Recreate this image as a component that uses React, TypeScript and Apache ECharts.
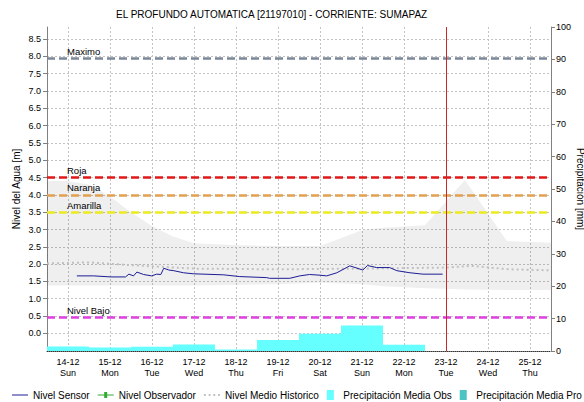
import React, { useEffect, useRef } from "react";
import * as echarts from "echarts";

const TITLE = "EL PROFUNDO AUTOMATICA [21197010] - CORRIENTE: SUMAPAZ";
const FONT = "'Liberation Sans', Arial, sans-serif";

// x axis: days counted from 14-12 00:00
const dayTicks = [0, 1, 2, 3, 4, 5, 6, 7, 8, 9, 10, 11];
const dayDates = ["14-12", "15-12", "16-12", "17-12", "18-12", "19-12", "20-12", "21-12", "22-12", "23-12", "24-12", "25-12"];
const dayNames = ["Sun", "Mon", "Tue", "Wed", "Thu", "Fri", "Sat", "Sun", "Mon", "Tue", "Wed", "Thu"];
const levelTicks = [0, 0.5, 1, 1.5, 2, 2.5, 3, 3.5, 4, 4.5, 5, 5.5, 6, 6.5, 7, 7.5, 8, 8.5];

// Nivel Sensor
const sensorX = [0.21, 0.61, 1.02, 1.37, 1.45, 1.56, 1.64, 1.8, 1.99, 2.11, 2.21, 2.28, 2.4, 2.52, 2.75, 2.99, 3.71, 4.09, 4.73, 4.8, 5.28, 5.52, 5.75, 6.0, 6.16, 6.4, 6.71, 7.02, 7.13, 7.35, 7.66, 7.83, 8.14, 8.45, 8.92];
const sensorLevel = [1.66, 1.66, 1.63, 1.63, 1.71, 1.66, 1.77, 1.7, 1.66, 1.71, 1.7, 1.88, 1.83, 1.81, 1.75, 1.72, 1.69, 1.64, 1.61, 1.59, 1.59, 1.66, 1.7, 1.68, 1.66, 1.75, 1.95, 1.83, 1.96, 1.9, 1.9, 1.81, 1.75, 1.71, 1.71];

// Nivel Medio Historico
const meanX = [-0.5, 0.5, 1.5, 3.0, 5.0, 7.0, 9.0, 9.6, 10.5, 11.5];
const meanLevel = [2.02, 2.05, 1.97, 1.87, 1.85, 1.87, 1.9, 1.95, 1.85, 1.82];

// historical envelope (gray band)
const bandX = [-0.5, 0.0, 0.5, 1.0, 1.5, 2.0, 2.5, 3.0, 4.0, 5.0, 6.0, 7.0, 7.5, 8.5, 9.45, 10.45, 11.5];
const bandHigh = [4.4, 4.4, 4.3, 3.95, 3.5, 3.1, 2.8, 2.6, 2.55, 2.52, 2.52, 2.98, 3.05, 3.12, 4.43, 2.67, 2.62];
const bandLow = [1.38, 1.38, 1.38, 1.38, 1.38, 1.38, 1.38, 1.38, 1.4, 1.42, 1.46, 1.42, 1.36, 1.3, 1.27, 1.25, 1.25];

// Precipitación Media Obs (mm), one bar per day
const precipDays = [0, 1, 2, 3, 4, 5, 6, 7, 8];
const precipObs = [1.4, 1.1, 1.3, 2.0, 0.5, 3.4, 5.3, 7.9, 1.9];

// thresholds
const thresholdNames = ["Maximo", "Roja", "Naranja", "Amarilla", "Nivel Bajo"];
const thresholdValues = [7.95, 4.5, 4.0, 3.5, 0.47];
const thresholdColors = ["#7b8899", "#e01818", "#e3a050", "#ecec1c", "#e040e0"];

const nowDay = 9;

const ICON_LINE = "path://M0,4.5H16V5.5H0Z";
const ICON_PLUS = "path://M0,4.5H6.5V2H9.5V4.5H16V5.5H9.5V8H6.5V5.5H0Z";
const ICON_DOTS = "path://M0,4H2V6H0ZM5,4H7V6H5ZM10,4H12V6H10ZM15,4H17V6H15Z";
const ICON_BOX = "path://M0,0h7v10h-7z";

export default function App() {
  const ref = useRef<HTMLDivElement>(null);
  useEffect(() => {
    if (!ref.current) return;
    const chart = echarts.init(ref.current, null, { renderer: "svg" });
    const gridLine = { show: true, lineStyle: { color: "#c4c4c4", type: [2, 2] as any, width: 1 } };
    const option: any = {
      animation: false,
      backgroundColor: "#ffffff",
      textStyle: { fontFamily: FONT },
      title: {
        text: TITLE,
        left: 116,
        top: 9,
        padding: 0,
        textStyle: { fontSize: 10, fontWeight: "normal", color: "#000", fontFamily: FONT },
      },
      legend: {
        top: 390,
        left: 12,
        padding: 0,
        itemWidth: 16,
        itemHeight: 10,
        itemGap: 8,
        textStyle: { fontSize: 10, color: "#000", fontFamily: FONT },
        data: [
          { name: "Nivel Sensor", icon: ICON_LINE },
          { name: "Nivel Observador", icon: ICON_PLUS },
          { name: "Nivel Medio Historico", icon: ICON_DOTS },
          { name: "Precipitación Media Obs", icon: ICON_BOX },
          { name: "Precipitación Media Pro", icon: ICON_BOX },
        ],
      },
      grid: { left: 47, right: 33, top: 27, bottom: 51, containLabel: false, outerBoundsMode: "none" },
      xAxis: {
        type: "value",
        min: -0.5,
        max: 11.5,
        axisLine: { show: true, onZero: false, lineStyle: { color: "#333", type: "dotted", width: 1 } },
        axisTick: { show: false, customValues: dayTicks },
        axisLabel: {
          customValues: dayTicks,
          margin: 5,
          fontSize: 9,
          lineHeight: 11,
          color: "#000",
          fontFamily: FONT,
          formatter: (v: number) => {
            const i = Math.round(v);
            return `${dayDates[i]}\n${dayNames[i]}`;
          },
        },
        splitLine: gridLine,
      },
      yAxis: [
        {
          type: "value",
          position: "left",
          min: -0.51,
          max: 8.85,
          name: "Nivel del Agua [m]",
          nameLocation: "middle",
          nameRotate: 90,
          nameGap: 26,
          nameMoveOverlap: false,
          nameTextStyle: { fontSize: 10, color: "#000", fontFamily: FONT },
          axisLine: { show: true, onZero: false, lineStyle: { color: "#808080" } },
          axisTick: { show: true, length: 4, customValues: levelTicks, lineStyle: { color: "#808080" } },
          axisLabel: {
            customValues: levelTicks,
            margin: 6,
            fontSize: 9,
            color: "#000",
            fontFamily: FONT,
            formatter: (v: number) => v.toFixed(1),
          },
          splitLine: gridLine,
        },
        {
          type: "value",
          position: "right",
          min: 0,
          max: 100,
          interval: 10,
          name: "Precipitación [mm]",
          nameLocation: "middle",
          nameRotate: -90,
          nameGap: 24,
          nameMoveOverlap: false,
          nameTextStyle: { fontSize: 10, color: "#000", fontFamily: FONT },
          axisLine: { show: true, onZero: false, lineStyle: { color: "#808080" } },
          axisTick: { show: true, length: 4, lineStyle: { color: "#808080" } },
          axisLabel: { margin: 5, fontSize: 9, color: "#000", fontFamily: FONT },
          splitLine: { show: false },
        },
      ],
      series: [
        {
          name: "Rango Historico",
          type: "custom",
          yAxisIndex: 0,
          clip: true,
          silent: true,
          z: 1,
          encode: { x: 0, y: [1, 2] },
          data: bandX.map((x, i) => [x, bandLow[i], bandHigh[i]]),
          renderItem: (params: any, api: any) => {
            if (params.dataIndex !== 0) return null;
            const pts: number[][] = [];
            for (let i = 0; i < bandX.length; i++) pts.push(api.coord([bandX[i], bandHigh[i]]));
            for (let i = bandX.length - 1; i >= 0; i--) pts.push(api.coord([bandX[i], bandLow[i]]));
            return { type: "polygon", shape: { points: pts }, style: { fill: "rgba(0,0,0,0.062)" } };
          },
        },
        {
          name: "Precipitación Media Obs",
          type: "custom",
          yAxisIndex: 1,
          clip: true,
          z: 2,
          itemStyle: { color: "#66ffff" },
          encode: { x: 0, y: 1 },
          data: precipDays.map((d, i) => [d, precipObs[i]]),
          renderItem: (params: any, api: any) => {
            const d = api.value(0);
            const v = api.value(1);
            const p0 = api.coord([d - 0.5, v]);
            const p1 = api.coord([d + 0.5, 0]);
            return {
              type: "rect",
              shape: { x: p0[0], y: p0[1], width: p1[0] - p0[0], height: p1[1] - p0[1] },
              style: { fill: "#66ffff" },
            };
          },
        },
        {
          name: "Precipitación Media Pro",
          type: "custom",
          yAxisIndex: 1,
          itemStyle: { color: "#4cc4c4" },
          encode: { x: 0, y: 1 },
          data: [],
          renderItem: () => null,
        },
        {
          name: "Nivel Medio Historico",
          type: "line",
          yAxisIndex: 0,
          z: 3,
          symbol: "none",
          data: meanX.map((x, i) => [x, meanLevel[i]]),
          lineStyle: { color: "#c0c0c0", width: 2, type: [2, 3] },
          itemStyle: { color: "#c0c0c0" },
          markLine: {
            silent: true,
            symbol: ["none", "none"],
            animation: false,
            data: thresholdNames.map((n, i) => ({
              name: n,
              yAxis: thresholdValues[i],
              lineStyle: { color: thresholdColors[i], width: 2.5, type: [8, 4] },
              label: {
                show: true,
                position: "insideStartTop",
                formatter: n,
                color: "#000",
                fontSize: 9.5,
                fontFamily: FONT,
                distance: [20, 2],
              },
            })),
          },
        },
        {
          name: "Nivel Observador",
          type: "line",
          yAxisIndex: 0,
          data: [],
          symbol: "path://M3,0h2v3h3v2h-3v3h-2v-3h-3v-2h3z",
          symbolSize: 7,
          lineStyle: { color: "#33aa33", width: 1 },
          itemStyle: { color: "#33aa33" },
        },
        {
          name: "Nivel Sensor",
          type: "line",
          yAxisIndex: 0,
          z: 5,
          symbol: "none",
          data: sensorX.map((x, i) => [x, sensorLevel[i]]),
          lineStyle: { color: "#1c1c96", width: 1 },
          itemStyle: { color: "#1c1c96" },
          markLine: {
            silent: true,
            symbol: ["none", "none"],
            animation: false,
            label: { show: false },
            data: [{ xAxis: nowDay, lineStyle: { color: "#c82828", width: 1, type: "solid" } }],
          },
        },
      ],
    };
    chart.setOption(option);
    return () => chart.dispose();
  }, []);
  return (
    <div
      ref={ref}
      style={{ position: "fixed", left: 0, top: 0, width: 584, height: 402, background: "#fff" }}
    />
  );
}
